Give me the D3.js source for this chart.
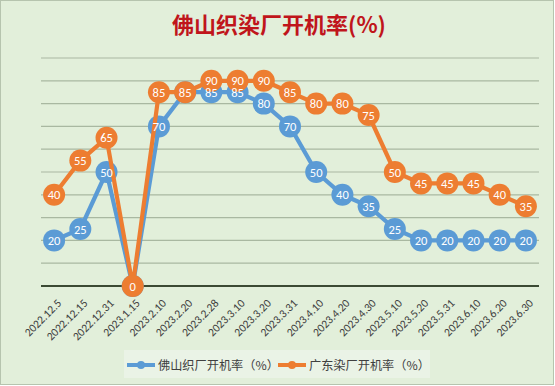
<!DOCTYPE html>
<html>
<head>
<meta charset="utf-8">
<script src="https://cdn.jsdelivr.net/npm/d3@7"></script>
<style>
  body { margin: 0; background: #fff; }
  svg { display: block; font-family: "Noto Sans CJK SC", "Microsoft YaHei", sans-serif; }
</style>
</head>
<body>
<svg width="555" height="386"></svg>
<script>
// dates on the x axis
var dates = ["2022.12.5", "2022.12.15", "2022.12.31", "2023.1.15", "2023.2.10", "2023.2.20",
             "2023.2.28", "2023.3.10", "2023.3.20", "2023.3.31", "2023.4.10", "2023.4.20",
             "2023.4.30", "2023.5.10", "2023.5.20", "2023.5.31", "2023.6.10", "2023.6.20", "2023.6.30"];
var foshan    = [20, 25, 50, 0, 70, 85, 85, 85, 80, 70, 50, 40, 35, 25, 20, 20, 20, 20, 20];
var guangdong = [40, 55, 65, 0, 85, 85, 90, 90, 90, 85, 80, 80, 75, 50, 45, 45, 45, 40, 35];
var yTicks = [0, 10, 20, 30, 40, 50, 60, 70, 80, 90, 100];
var seriesNames = ["佛山织厂开机率（%）", "广东染厂开机率（%）"];
var chartTitle = "佛山织染厂开机率(%)";

var svg = d3.select("svg"),
    W = 555, H = 386,
    margin = {top: 58, right: 16, bottom: 100, left: 41};

var blue = "#5b9bd5", orange = "#ed7d31";
var numFont = "Calibri, Carlito, 'Liberation Sans', sans-serif";

// background + border
svg.append("rect")
  .attr("x", 0.5).attr("y", 0.5)
  .attr("width", W - 2).attr("height", H - 2)
  .attr("fill", "#e2efda")
  .attr("stroke", "#b6c4ae");

var x = d3.scaleBand()
  .domain(dates)
  .range([margin.left, W - margin.right]);

var y = d3.scaleLinear()
  .domain([0, 100])
  .range([H - margin.bottom, margin.top]);

var cx = function (d, i) { return x(dates[i]) + x.bandwidth() / 2; };

// gridlines
svg.append("g")
  .selectAll("line")
  .data(yTicks.slice(1))
  .enter().append("line")
    .attr("x1", margin.left)
    .attr("x2", W - margin.right)
    .attr("y1", function (d) { return y(d); })
    .attr("y2", function (d) { return y(d); })
    .attr("stroke", "#a9b8a1")
    .attr("stroke-width", 1.2);

// baseline
svg.append("line")
  .attr("x1", margin.left).attr("x2", W - margin.right)
  .attr("y1", y(0)).attr("y2", y(0))
  .attr("stroke", "#3b4a33")
  .attr("stroke-width", 2.2);

// x axis labels
var xAxis = svg.append("g")
  .attr("transform", "translate(0," + y(0) + ")")
  .call(d3.axisBottom(x).tickSize(0).tickPadding(0));
xAxis.select(".domain").remove();
xAxis.selectAll("text")
  .attr("font-size", "11.5px")
  .attr("font-family", numFont)
  .attr("fill", "#404040")
  .attr("text-anchor", "end")
  .attr("dy", "0")
  .attr("transform", "translate(8,18) rotate(-45)");

var line = d3.line()
  .x(cx)
  .y(function (d) { return y(d); });

var series = [{values: foshan, color: blue}, {values: guangdong, color: orange}];

// lines and markers per series
series.forEach(function (s) {
  var g = svg.append("g");
  g.append("path")
    .datum(s.values)
    .attr("d", line)
    .attr("fill", "none")
    .attr("stroke", s.color)
    .attr("stroke-width", 4.2)
    .attr("stroke-linejoin", "round");
  g.selectAll("circle")
    .data(s.values)
    .enter().append("circle")
      .attr("cx", cx)
      .attr("cy", function (d) { return y(d); })
      .attr("r", 11)
      .attr("fill", s.color);
});

// data labels on top; a blue label fully hidden under an orange marker is skipped
series.forEach(function (s, k) {
  svg.append("g").selectAll("text")
    .data(s.values)
    .enter().append("text")
      .attr("x", cx)
      .attr("y", function (d) { return y(d) + 4.5; })
      .attr("text-anchor", "middle")
      .attr("font-size", "12.5px")
      .attr("font-family", numFont)
      .attr("fill", "#fff")
      .attr("display", function (d, i) { return k === 0 && d === guangdong[i] ? "none" : null; })
      .text(function (d) { return d; });
});

// title
svg.append("text")
  .attr("x", 279)
  .attr("y", 33)
  .attr("text-anchor", "middle")
  .attr("font-size", "22px")
  .attr("font-weight", "bold")
  .attr("fill", "#c0151b")
  .text(chartTitle);

// legend
var legend = svg.append("g");
legend.append("rect")
  .attr("x", 124).attr("y", 350)
  .attr("width", 306).attr("height", 28)
  .attr("fill", "#eaf3e6");
var legendX = [127, 278], legendColors = [blue, orange];
seriesNames.forEach(function (name, i) {
  var lg = legend.append("g").attr("transform", "translate(" + legendX[i] + ",365)");
  lg.append("line")
    .attr("x1", 0).attr("x2", 28)
    .attr("stroke", legendColors[i]).attr("stroke-width", 4);
  lg.append("circle").attr("cx", 14).attr("r", 4).attr("fill", legendColors[i]);
  lg.append("text")
    .attr("x", 31).attr("y", 5)
    .attr("font-size", "12.2px")
    .attr("fill", "#404040")
    .text(name);
});
</script>
</body>
</html>
